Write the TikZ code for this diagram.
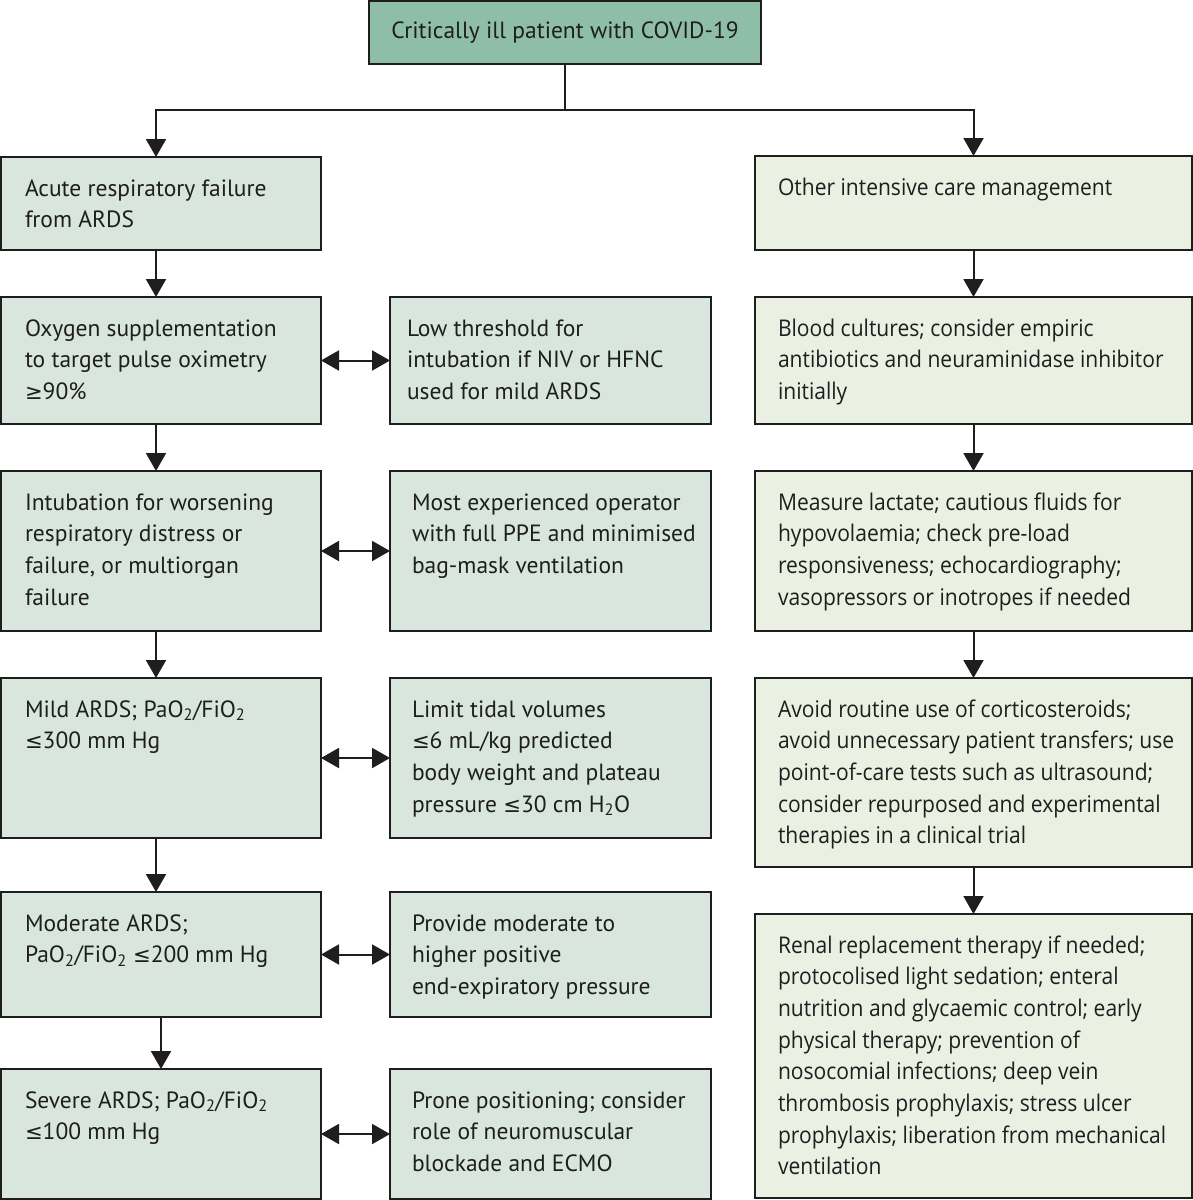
\documentclass[tikz,border=0pt]{standalone}
\usepackage{fontspec}
\setmainfont{PT Sans}
\newfontfamily\rfont{Open Sans}[FakeStretch=0.915]
\newfontfamily\symf{DejaVu Sans}[Scale=0.9]
\newcommand\mygeq{{\symf ≥}}
\newcommand\myleq{{\symf ≤}}
\usetikzlibrary{arrows.meta}
\definecolor{topc}{RGB}{143,190,168}
\definecolor{leftc}{RGB}{217,230,222}
\definecolor{rightc}{RGB}{234,241,227}
\definecolor{inkc}{RGB}{30,30,30}
\tikzset{
  boxbase/.style={draw=inkc, line width=1.8pt, inner sep=0pt, outer sep=0pt, rectangle},
  lbox/.style={boxbase, fill=leftc},
  rbox/.style={boxbase, fill=rightc},
  tbox/.style={boxbase, fill=topc},
  ltxt/.style={inner sep=0pt, outer sep=0pt, align=left, text=inkc, font=\fontsize{23.5}{31.7}\selectfont},
  rtxt/.style={inner sep=0pt, outer sep=0pt, align=left, text=inkc, font=\rfont\fontsize{23}{31.7}\selectfont},
  conn/.style={draw=inkc, line width=2pt},
  arr/.style={conn, -{Triangle[length=18pt,width=20pt]}},
  darr/.style={conn, {Triangle[length=18pt,width=20pt]}-{Triangle[length=18pt,width=20pt]}},
}
\newcommand\tbx[9]{% pad, name, x1, y1, x2, y2, box style, text style, text
  \pgfmathsetmacro\bw{#5-#3}%
  \pgfmathsetmacro\bh{#6-#4}%
  \node[#7, anchor=north west, minimum width=\bw pt, minimum height=\bh pt] (#2) at (#3,#4) {};
  \node[#8, anchor=north west] (#2t) at ([xshift=#1pt,yshift=-15pt]#2.north west) {\rule{0pt}{24pt}#9};
}
\begin{document}
\begin{tikzpicture}[x=1pt,y=-1pt]
\useasboundingbox (0,0) rectangle (1193,1200);
% top
\node[tbox, anchor=north west, minimum width=392pt, minimum height=63pt] (top) at (369,1) {};
\node[ltxt] (topt) at (top.center) {Critically ill patient with COVID-19};
% left column
\tbx{24}{acute}{1}{157}{321}{250}{lbox}{ltxt}{Acute respiratory failure\\from ARDS}
\tbx{24}{oxy}{1}{297}{321}{424}{lbox}{ltxt}{Oxygen supplementation\\to target pulse oximetry\\\mygeq90\%}
\tbx{24}{intub}{1}{471}{321}{631}{lbox}{ltxt}{Intubation for worsening\\respiratory distress or\\failure, or multiorgan\\failure}
\tbx{24}{mild}{1}{678}{321}{838}{lbox}{ltxt}{Mild ARDS; PaO\textsubscript{2}/FiO\textsubscript{2}\\\myleq300 mm Hg}
\tbx{24}{mod}{1}{892}{321}{1017}{lbox}{ltxt}{Moderate ARDS;\\PaO\textsubscript{2}/FiO\textsubscript{2} \myleq200 mm Hg}
\tbx{24}{sev}{1}{1069}{321}{1199}{lbox}{ltxt}{Severe ARDS; PaO\textsubscript{2}/FiO\textsubscript{2}\\\myleq100 mm Hg}
% middle column
\tbx{17}{low}{390}{297}{711}{424}{lbox}{ltxt}{Low threshold for\\intubation if NIV or HFNC\\used for mild ARDS}
\tbx{22}{most}{390}{471}{711}{631}{lbox}{ltxt}{Most experienced operator\\with full PPE and minimised\\bag-mask ventilation}
\tbx{22}{limit}{390}{678}{711}{838}{lbox}{ltxt}{Limit tidal volumes\\\myleq6 mL/kg predicted\\body weight and plateau\\pressure \myleq30 cm H\textsubscript{2}O}
\tbx{22}{prov}{390}{892}{711}{1017}{lbox}{ltxt}{Provide moderate to\\higher positive\\end-expiratory pressure}
\tbx{22}{prone}{390}{1069}{711}{1199}{lbox}{ltxt}{Prone positioning; consider\\role of neuromuscular\\blockade and ECMO}
% right column
\tbx{23}{other}{755}{156}{1192}{250}{rbox}{rtxt}{Other intensive care management}
\tbx{23}{blood}{755}{297}{1192}{424}{rbox}{rtxt}{Blood cultures; consider empiric\\antibiotics and neuraminidase inhibitor\\initially}
\tbx{23}{meas}{755}{471}{1192}{631}{rbox}{rtxt}{Measure lactate; cautious fluids for\\hypovolaemia; check pre-load\\responsiveness; echocardiography;\\vasopressors or inotropes if needed}
\tbx{23}{avoid}{755}{678}{1192}{867}{rbox}{rtxt}{Avoid routine use of corticosteroids;\\avoid unnecessary patient transfers; use\\point-of-care tests such as ultrasound;\\consider repurposed and experimental\\therapies in a clinical trial}
\tbx{23}{renal}{755}{914}{1192}{1198}{rbox}{rtxt}{Renal replacement therapy if needed;\\protocolised light sedation; enteral\\nutrition and glycaemic control; early\\physical therapy; prevention of\\nosocomial infections; deep vein\\thrombosis prophylaxis; stress ulcer\\prophylaxis; liberation from mechanical\\ventilation}
% connectors from top
\coordinate (split) at ([yshift=-46pt]top.south);
\draw[conn] (top.south) -- (split);
\draw[arr] (split) -| ([xshift=-5pt]acute.north);
\draw[arr] (split) -| (other.north);
% left column arrows
\draw[arr] ([xshift=-5pt]acute.south) -- ([xshift=-5pt]oxy.north);
\draw[arr] ([xshift=-5pt]oxy.south) -- ([xshift=-5pt]intub.north);
\draw[arr] ([xshift=-5pt]intub.south) -- ([xshift=-5pt]mild.north);
\draw[arr] ([xshift=-5pt]mild.south) -- ([xshift=-5pt]mod.north);
\draw[arr] (mod.south) -- (sev.north);
% double arrows
\draw[darr] (oxy.east) -- (low.west);
\draw[darr] (intub.east) -- (most.west);
\draw[darr] (mild.east) -- (limit.west);
\draw[darr] (mod.east) -- (prov.west);
\draw[darr] (sev.east) -- (prone.west);
% right column arrows
\draw[arr] (other.south) -- (blood.north);
\draw[arr] (blood.south) -- (meas.north);
\draw[arr] (meas.south) -- (avoid.north);
\draw[arr] (avoid.south) -- (renal.north);
\end{tikzpicture}
\end{document}
